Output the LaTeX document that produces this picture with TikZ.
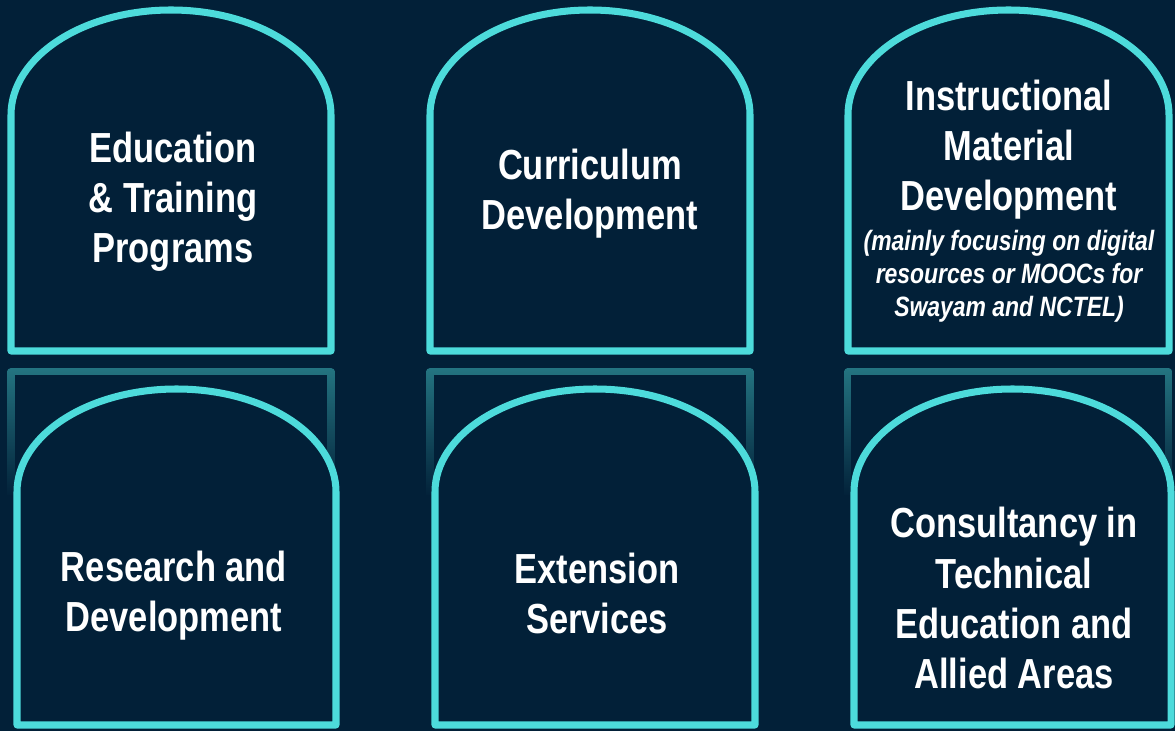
\documentclass[tikz,border=0pt]{standalone}
\usepackage{fontspec}
\usepackage{tikz}
\usetikzlibrary{fadings}
\newfontfamily\narrowfont{Liberation Sans}[FakeStretch=0.82]
\definecolor{navybg}{RGB}{2,32,56}
\definecolor{archcyan}{RGB}{77,219,219}
\tikzfading[name=reflfade, top color=transparent!0, bottom color=transparent!100]
\tikzset{
  archbox/.style={draw=archcyan, fill=navybg, line width=5pt, line join=round},
  reflline/.style={draw=archcyan!45!navybg, line width=5pt, line join=round, path fading=reflfade},
  boxlabel/.style={text=white, align=center, font=\narrowfont\bfseries\fontsize{29.9}{35.6}\selectfont},
  notelabel/.style={text=white, align=center, font=\narrowfont\bfseries\itshape\fontsize{19.9}{23.5}\selectfont},
}
\begin{document}
\begin{tikzpicture}[x=0.025cm, y=0.025cm]
\useasboundingbox (0,0) rectangle (1175,731);
\fill[navybg] (0,0) rectangle (1175,731);
% top row
\draw[archbox] (11,380) -- (11,616) arc[start angle=180, end angle=0, x radius=160, y radius=105] -- (331,380) -- cycle;
\draw[archbox] (430,380) -- (430,616) arc[start angle=180, end angle=0, x radius=160, y radius=105] -- (750,380) -- cycle;
\draw[archbox] (848,380) -- (848,616) arc[start angle=180, end angle=0, x radius=160.5, y radius=105] -- (1169,380) -- cycle;
% reflections of the top row
\draw[reflline] (11,236) -- (11,359) -- (331,359) -- (331,236);
\draw[reflline] (430,236) -- (430,359) -- (750,359) -- (750,236);
\draw[reflline] (848,236) -- (848,359) -- (1169,359) -- (1169,236);
% bottom row
\draw[archbox] (17,6) -- (17,239) arc[start angle=180, end angle=0, x radius=159.5, y radius=103] -- (336,6) -- cycle;
\draw[archbox] (435,6) -- (435,239) arc[start angle=180, end angle=0, x radius=160, y radius=103] -- (755,6) -- cycle;
\draw[archbox] (854,6) -- (854,239) arc[start angle=180, end angle=0, x radius=158.5, y radius=103] -- (1171,6) -- cycle;
% labels
\node[boxlabel] (edu) at (173,529) {Education\\\& Training\\Programs};
\node[boxlabel] (curr) at (590,537) {Curriculum\\Development};
\node[boxlabel] (instr) at (1009,581) {Instructional\\Material\\Development};
\node[notelabel] (instrnote) at (1009,455) {(mainly focusing on digital\\resources or MOOCs for\\Swayam and NCTEL)};
\node[boxlabel] (res) at (174,135) {Research and\\Development};
\node[boxlabel] (ext) at (597,138) {Extension\\Services};
\node[boxlabel] (cons) at (1014,133) {Consultancy in\\Technical\\Education and\\Allied Areas};
\end{tikzpicture}
\end{document}
